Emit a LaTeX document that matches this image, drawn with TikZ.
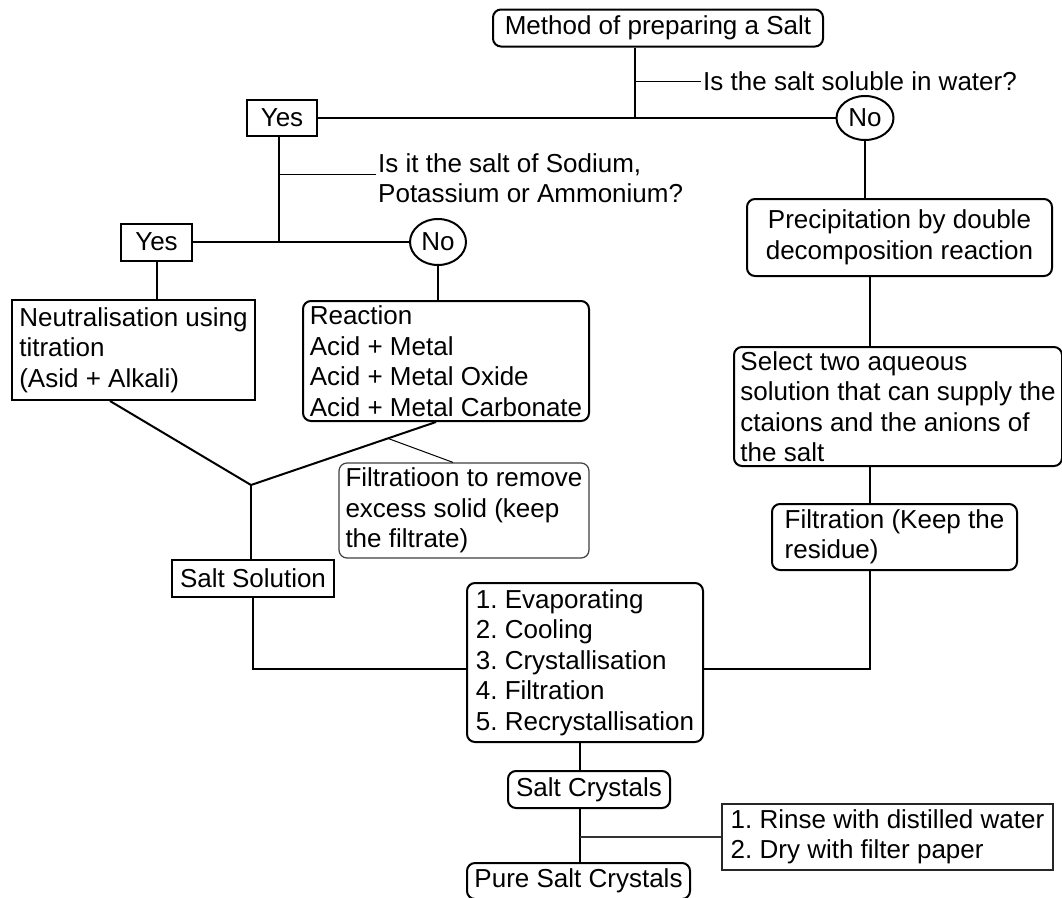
\documentclass[tikz,border=0pt]{standalone}
\usepackage{fontspec}
\setmainfont{Liberation Sans}
\usetikzlibrary{shapes.geometric,calc}
\frenchspacing
\begin{document}
\begin{tikzpicture}[x=1pt,y=-1pt,
  every node/.style={font=\fontsize{26}{30.5}\selectfont, inner sep=0pt},
  conn/.style={line width=2pt},
  tickline/.style={line width=1pt},
  rbox/.style={draw, line width=2pt, rounded corners=8pt},
  sbox/.style={draw, line width=2pt},
  thinrbox/.style={draw=black!75, line width=1.2pt, rounded corners=8pt},
  thinsbox/.style={draw=black!85, line width=1.5pt},
  oval/.style={draw, ellipse, line width=2pt},
  lbl/.style={anchor=west, inner xsep=2pt, align=left}]
\useasboundingbox (0,0) rectangle (1062,897);
\clip (0,0) rectangle (1062,897);
\fill[white] (0,0) rectangle (1062,897);

% nodes
\node[rbox, minimum width=330pt, minimum height=37pt] (top) at (658,28) {Method of preparing a Salt};
\node[sbox, minimum width=70pt, minimum height=36pt] (yes1) at (282,118) {Yes};
\node[oval, minimum width=57pt, minimum height=44pt] (no1) at (865,118) {No};
\node[lbl] (q1) at (701,81) {Is the salt soluble in water?};
\node[rbox, minimum width=305pt, minimum height=77pt, align=center] (precip) at (899.5,237.5) {Precipitation by double\\decomposition reaction};
\node[rbox, minimum width=328pt, minimum height=119pt, align=left] (select) at (898,406.5) {Select two aqueous\\solution that can supply the\\ctaions and the anions of\\the salt};
\node[rbox, minimum width=245pt, minimum height=66pt, align=left] (filt2) at (894.5,537) {Filtration (Keep the\\residue)};

\node[sbox, minimum width=71pt, minimum height=37pt] (yes2) at (156.5,242) {Yes};
\node[oval, minimum width=56pt, minimum height=46pt] (no2) at (438,242) {No};
\node[lbl] (q2) at (376,178) {Is it the salt of Sodium,\\Potassium or Ammonium?};
\node[sbox, minimum width=243pt, minimum height=100pt, align=left] (neut) at (133.5,350) {Neutralisation using\\titration\\(Asid + Alkali)};
\node[rbox, minimum width=286pt, minimum height=120pt, align=left] (reac) at (446,361) {Reaction\\Acid + Metal\\Acid + Metal Oxide\\Acid + Metal Carbonate};
\node[thinrbox, minimum width=250pt, minimum height=95pt, align=left] (filt1) at (464,510.5) {Filtratioon to remove\\excess solid (keep\\the filtrate)};
\node[sbox, minimum width=162pt, minimum height=37pt] (ss) at (253,578.5) {Salt Solution};
\node[rbox, minimum width=236pt, minimum height=159pt, align=left] (steps) at (585,662.5) {1. Evaporating\\2. Cooling\\3. Crystallisation\\4. Filtration\\5. Recrystallisation};
\node[rbox, minimum width=162pt, minimum height=37pt] (sc) at (589,789.5) {Salt Crystals};
\node[rbox, minimum width=223pt, minimum height=36pt] (pure) at (578.5,881) {Pure Salt Crystals};
\node[thinsbox, minimum width=331pt, minimum height=66pt, align=left] (rinse) at (887.5,837) {1. Rinse with distilled water\\2. Dry with filter paper};

% junction coordinates
\coordinate (j1) at (635,118);
\coordinate (t1) at (635,81);
\coordinate (jl) at (279,242);
\coordinate (t2) at (279,174);
\coordinate (rx) at (870,0);
\coordinate (ry) at (0,669);
\coordinate (dl) at (110,0);
\coordinate (dr) at (436,0);
\coordinate (j3) at (251,485);
\coordinate (fx) at (453,0);
\coordinate (bx) at (580,0);

% connectors
\draw[conn] (top.south -| j1) -- (j1);
\draw[tickline] (t1) -- (q1.west |- t1);
\draw[conn] (yes1.east) -- (no1.west);
\draw[conn] (no1.south) -- (no1.south |- precip.north);
\draw[conn] (precip.south -| rx) -- (select.north -| rx);
\draw[conn] (select.south -| rx) -- (filt2.north -| rx);
\draw[conn] (filt2.south -| rx) -- (rx |- ry) -- (steps.east |- ry);

\draw[conn] (yes1.south -| jl) -- (jl);
\draw[tickline] (t2) -- (q2.west |- t2);
\draw[conn] (yes2.east) -- (no2.west);
\draw[conn] (yes2.south) -- (yes2.south |- neut.north);
\draw[conn] (no2.south) -- (no2.south |- reac.north);
\draw[conn] (neut.south -| dl) -- (j3) -- (reac.south -| dr);
\coordinate (fp) at ($(j3)!0.74!(reac.south -| dr)$);
\draw[tickline] (fp) -- (filt1.north -| fx);
\draw[conn] (j3) -- (ss.north -| j3);
\draw[conn] (ss.south) -- (ss.south |- ry) -- (steps.west |- ry);
\draw[conn] (steps.south -| bx) -- (sc.north -| bx);
\draw[conn] (sc.south -| bx) -- (pure.north -| bx);
\draw[line width=1.5pt, black!80] (bx |- rinse.west) -- (rinse.west);
\end{tikzpicture}
\end{document}
